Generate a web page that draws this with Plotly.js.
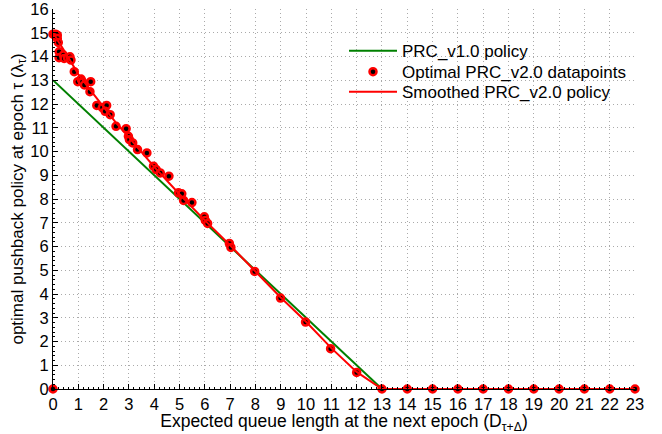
<!DOCTYPE html>
<html>
<head>
<meta charset="utf-8">
<script src="https://cdn.plot.ly/plotly-3.0.1.min.js"></script>
<style>html,body{margin:0;padding:0;background:#fff;}#chart{width:662px;height:434px;}</style>
</head>
<body>
<div id="chart"></div>
<script>
// PRC_v1.0 policy (straight line)
const v1X = [0, 13];
const v1Y = [13, 0];

// Optimal PRC_v2.0 datapoints
const dataX = [0, 0.1, 0.17, 0.17, 0.21, 0.24, 0.24, 0.41, 0.44, 0.57, 0.67, 0.71, 0.84, 0.98, 1.11, 1.16, 1.24, 1.49, 1.46,
  1.73, 1.95, 2.12, 2.06, 2.26, 2.49, 2.89, 2.98, 3.02, 3.15, 3.34, 3.71, 3.97, 4.08, 4.24, 4.58,
  4.96, 5.09, 5.16, 5.49, 5.98, 6.02, 6.11, 6.97, 7.03, 7.97, 8.99, 9.98, 10.97, 12,
  0, 13, 14, 15, 16, 17, 18, 19, 20, 21, 22, 23];
const dataY = [14.94, 14.94, 14.9, 14.76, 14.59, 14.2, 13.95, 14.06, 13.92, 13.95, 13.99, 13.85, 13.36, 12.94, 13.05, 12.94, 12.8, 12.94, 12.52,
  11.94, 11.85, 11.94, 11.69, 11.55, 11.06, 10.96, 10.64, 10.5, 10.36, 10.08, 9.94, 9.38, 9.24, 9.1, 8.96,
  8.26, 8.22, 7.94, 7.85, 7.25, 7.1, 6.97, 6.13, 5.96, 4.95, 3.83, 2.82, 1.7, 0.7,
  0, 0, 0, 0, 0, 0, 0, 0, 0, 0, 0, 0];

// Smoothed PRC_v2.0 policy
const smX = [0, 0.25, 0.5, 0.75, 1, 1.5, 2, 2.5, 3, 4, 5, 6, 7, 8, 9, 10, 11, 12, 13, 23];
const smY = [15, 14.6, 14.15, 13.7, 13.25, 12.55, 11.9, 11.2, 10.6, 9.35, 8.2, 7.1, 6.05, 4.97, 3.85, 2.83, 1.72, 0.72, 0, 0];

const xTicks = Array.from({length: 24}, (_, i) => i);
const yTicks = Array.from({length: 17}, (_, i) => i);

const font = 'Liberation Sans, Arial, sans-serif';

const traces = [
  {x: v1X, y: v1Y, mode: 'lines', name: 'PRC_v1.0 policy', legend: 'legend',
   line: {color: '#008000', width: 2}, cliponaxis: false},
  {x: dataX, y: dataY, mode: 'markers', name: 'Optimal PRC_v2.0 datapoints', legend: 'legend2',
   marker: {color: '#000', size: 7, line: {color: '#ff0000', width: 2.5}}, cliponaxis: false},
  {x: smX, y: smY, mode: 'lines', name: 'Smoothed PRC_v2.0 policy', legend: 'legend3',
   line: {color: '#ff0000', width: 2}, cliponaxis: false}
];

function leg(y) {
  return {x: 0.5, y: y, xanchor: 'left', yanchor: 'middle', bgcolor: 'rgba(0,0,0,0)',
    itemwidth: 48, font: {family: font, size: 17, color: '#000'}};
}

const layout = {
  width: 662, height: 434,
  margin: {l: 53, r: 27, t: 9, b: 45},
  paper_bgcolor: '#fff', plot_bgcolor: '#fff',
  font: {family: font, size: 16, color: '#000'},
  showlegend: true,
  legend: leg(0.889),
  legend2: leg(0.834),
  legend3: leg(0.781),
  shapes: [{type: 'rect', xref: 'paper', yref: 'paper', x0: 0.5, x1: 0.995, y0: 0.75, y1: 0.925,
    fillcolor: '#fff', line: {width: 0}, layer: 'between'}],
  xaxis: {
    range: [0, 23], tickvals: xTicks, ticktext: xTicks.map(String),
    showline: true, linecolor: '#000', linewidth: 1, ticks: 'inside', ticklen: 5, tickcolor: '#000',
    showgrid: true, gridcolor: '#aaa', griddash: '1px,3px', gridwidth: 1, zeroline: false,
    tickfont: {family: font, size: 16.5}, ticklabeloverflow: 'allow',
    minor: {dtick: 0.2, ticks: 'inside', ticklen: 2, tickcolor: '#000', showgrid: false},
    title: {text: 'Expected queue length at the next epoch (D<sub>τ+Δ</sub>)', font: {family: font, size: 17.5}, standoff: 0}
  },
  yaxis: {
    range: [0, 16], tickvals: yTicks, ticktext: yTicks.map(String),
    showline: true, linecolor: '#000', linewidth: 1, ticks: 'inside', ticklen: 5, tickcolor: '#000',
    showgrid: true, gridcolor: '#aaa', griddash: '1px,3px', gridwidth: 1, zeroline: false,
    tickfont: {family: font, size: 16.5}, ticklabeloverflow: 'allow',
    minor: {dtick: 0.2, ticks: 'inside', ticklen: 2, tickcolor: '#000', showgrid: false},
    title: {text: 'optimal pushback policy at epoch τ (λ<sub>τ</sub>)', font: {family: font, size: 17}, standoff: 2}
  }
};

Plotly.newPlot('chart', traces, layout, {displayModeBar: false, staticPlot: true});
</script>
</body>
</html>
